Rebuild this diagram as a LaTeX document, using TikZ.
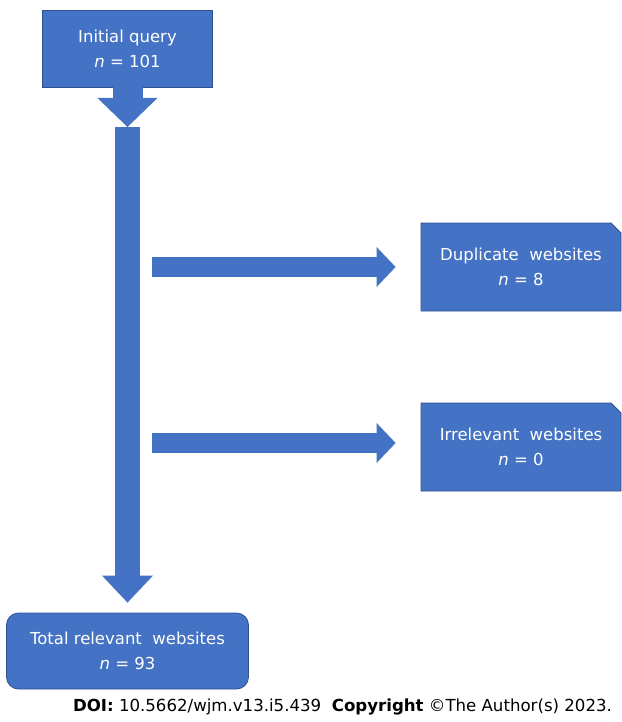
\documentclass[tikz,border=0pt]{standalone}
\usepackage{fontspec}
\setmainfont{DejaVu Sans}
\usepackage{tikz}
\usetikzlibrary{arrows.meta,shapes.misc,calc}
\definecolor{boxblue}{HTML}{4472C4}
\definecolor{edgeblue}{HTML}{2F528F}

\begin{document}
\begin{tikzpicture}[
  x=1pt, y=-1pt,
  font=\fontsize{16.5}{25}\selectfont,
  box/.style={draw=edgeblue, line width=0.8pt, fill=boxblue, text=white,
              align=center, inner sep=0pt},
  startbox/.style={box, minimum width=170pt, minimum height=77pt},
  sidebox/.style={box, chamfered rectangle, chamfered rectangle corners=north east,
                  chamfered rectangle xsep=5pt, chamfered rectangle ysep=5pt,
                  minimum width=200pt, minimum height=88pt},
  endbox/.style={box, rounded corners=12pt, minimum width=242pt, minimum height=76pt},
  fatarr/.style={draw=boxblue, line width=30pt,
                 -{Triangle[length=29pt, width=60pt, line width=0pt]}},
  mainarr/.style={draw=boxblue, line width=25pt,
                  -{Triangle[length=27pt, width=51pt, line width=0pt]}},
  sidearr/.style={draw=boxblue, line width=20pt,
                  -{Triangle[length=19pt, width=40pt, line width=0pt]}},
  foot/.style={font=\fontsize{16.6}{19}\selectfont, anchor=base, inner sep=0pt}
]
\useasboundingbox (0,0) rectangle (621,722);

% ---------- boxes ----------
\node[startbox] (query) at (127.5,48.5) {Initial query\\\textit{n} = 101};
\node[sidebox] (dup) at (521,267) {Duplicate\ \ websites\\\textit{n} = 8};
\node[sidebox] (irr) at (521,447) {Irrelevant\ \ websites\\\textit{n} = 0};
\node[endbox] (total) at (127.5,651) {Total relevant\ \ websites\\\textit{n} = 93};

% ---------- block arrows ----------
\coordinate (split) at (127.5,127);
\coordinate (join) at ($(total.north)+(0,-10)$);
\draw[fatarr] (query.south) -- (split);
\draw[mainarr] (split) -- (join);
\draw[sidearr] ($(split |- dup.west)+(24,0)$) -- ($(dup.west)+(-25,0)$);
\draw[sidearr] ($(split |- irr.west)+(24,-4)$) -- ($(irr.west)+(-25,-4)$);

% ---------- footer ----------
\node[foot] (doi) at (342.5,711)
  {\textbf{DOI:} 10.5662/wjm.v13.i5.439\ \ \textbf{Copyright} ©The Author(s) 2023.};
\end{tikzpicture}
\end{document}
